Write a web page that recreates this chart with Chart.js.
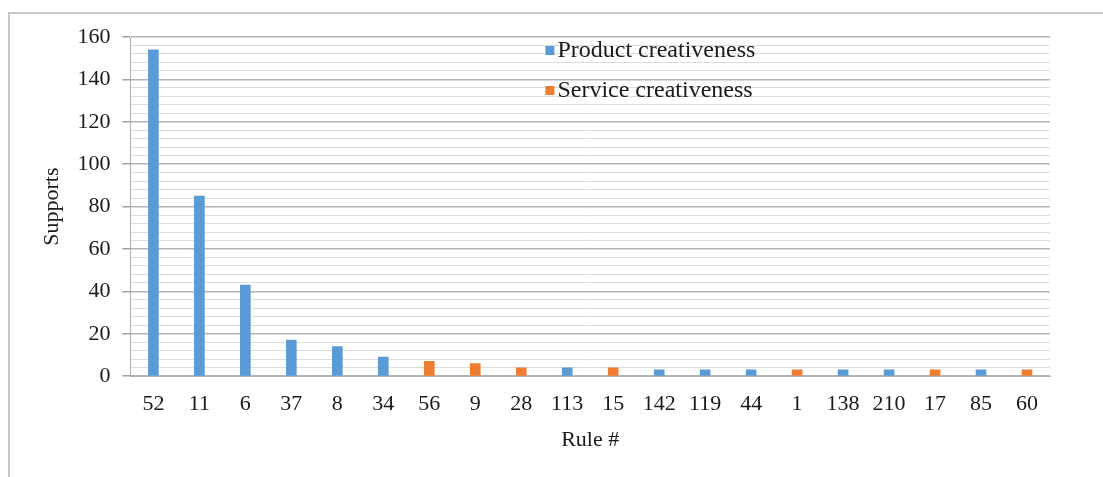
<!DOCTYPE html>
<html>
<head>
<meta charset="utf-8">
<script src="https://cdn.jsdelivr.net/npm/chart.js@4"></script>
<style>
    html, body { margin: 0; padding: 0; background: #fff; }
    #wrap { position: relative; width: 1103px; height: 477px; }
    #frame {
        position: absolute; left: 8px; top: 12px; right: 0; bottom: 0;
        border-top: 2px solid #c8c8c8; border-left: 2px solid #c8c8c8;
        pointer-events: none;
    }
</style>
</head>
<body>
<div id="wrap">
    <canvas id="rules-chart" width="1103" height="477"></canvas>
    <div id="frame"></div>
</div>
<script>
// Rule numbers along the x axis
const rules = ['52', '11', '6', '37', '8', '34', '56', '9', '28', '113', '15', '142', '119', '44', '1', '138', '210', '17', '85', '60'];

// Supports per rule (null where the rule belongs to the other group)
const productSupports = [154, 85, 43, 17, 14, 9, null, null, null, 4, null, 3, 3, 3, null, 3, 3, null, 3, null];
const serviceSupports = [null, null, null, null, null, null, 7, 6, 4, null, 4, null, null, null, 3, null, null, 3, null, 3];

const yMin = 0;
const yMax = 160;
const yMajorStep = 20;
const yMinorStep = 4;

const serif = "'Liberation Serif', 'Times New Roman', serif";

// Legend drawn inside the plot area, like the original
const insideLegend = {
    id: 'insideLegend',
    afterDraw(chart) {
        const ctx = chart.ctx;
        const area = chart.chartArea;
        const x = area.left + 415;
        const rows = [area.top + 14, area.top + 54];
        ctx.save();
        ctx.font = '24px ' + serif;
        ctx.textBaseline = 'middle';
        chart.data.datasets.forEach((ds, i) => {
            ctx.fillStyle = ds.backgroundColor;
            ctx.fillRect(x, rows[i] - 5, 9, 9);
            ctx.fillStyle = '#1a1a1a';
            ctx.fillText(ds.label, x + 12, rows[i]);
        });
        ctx.restore();
    }
};

const ctx = document.getElementById('rules-chart').getContext('2d');

new Chart(ctx, {
    type: 'bar',
    data: {
        labels: rules,
        datasets: [
            {
                label: 'Product creativeness',
                data: productSupports,
                backgroundColor: '#5b9bd5',
                barThickness: 10,
                grouped: false
            },
            {
                label: 'Service creativeness',
                data: serviceSupports,
                backgroundColor: '#ed7d31',
                barThickness: 10,
                grouped: false
            }
        ]
    },
    options: {
        responsive: false,
        animation: false,
        layout: { padding: { top: 37, right: 53, left: 35, bottom: 20 } },
        plugins: {
            legend: { display: false },
            tooltip: { enabled: false }
        },
        scales: {
            x: {
                grid: { display: false },
                border: { display: true, color: '#b0b0b0', width: 1 },
                ticks: { color: '#1a1a1a', font: { family: serif, size: 22 }, padding: 7 },
                title: { display: true, text: 'Rule #', color: '#1a1a1a', font: { family: serif, size: 22 }, padding: { top: 2 } }
            },
            y: {
                min: yMin,
                max: yMax,
                ticks: {
                    stepSize: yMinorStep,
                    autoSkip: false,
                    color: '#1a1a1a',
                    font: { family: serif, size: 22 },
                    padding: 12,
                    callback: v => (v % yMajorStep === 0 ? v : '')
                },
                grid: {
                    color: c => (c.tick.value % yMajorStep === 0 ? '#b4b4b4' : '#dcdcdc'),
                    lineWidth: c => (c.tick.value % yMajorStep === 0 ? 1.5 : 1),
                    tickColor: c => (c.tick.value % yMajorStep === 0 ? '#a0a0a0' : 'rgba(0,0,0,0)'),
                    tickLength: 8
                },
                border: { display: true, color: '#b0b0b0', width: 1 },
                title: { display: true, text: 'Supports', color: '#1a1a1a', font: { family: serif, size: 22 }, padding: { bottom: 0 } }
            }
        }
    },
    plugins: [insideLegend]
});
</script>
</body>
</html>
